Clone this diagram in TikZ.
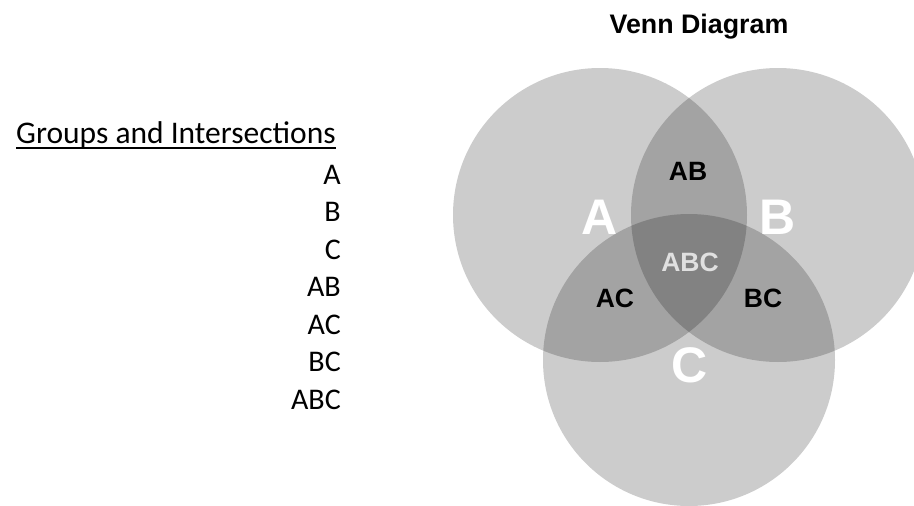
\documentclass[tikz,border=0pt]{standalone}
\usepackage{fontspec}
\setmainfont{Liberation Sans}
\newfontfamily\listfont{Carlito}
\begin{document}
\begin{tikzpicture}[x=1pt,y=-1pt,
  setcircle/.style={fill=black,fill opacity=0.2},
  bigletter/.style={inner sep=0pt,text=white,font=\fontsize{50}{52}\selectfont\bfseries},
  zonelabel/.style={inner sep=0pt,text=black,font=\fontsize{26.5}{28}\selectfont\bfseries},
  listitem/.style={inner sep=0pt,anchor=base east,font=\listfont\fontsize{30}{34}\selectfont}]
\useasboundingbox (0,0) rectangle (914,506);

% heading
\node[inner sep=0pt,anchor=base,font=\fontsize{26.8}{28}\selectfont\bfseries] (title) at (699,33) {Venn Diagram};

% the three sets
\coordinate (cA) at (600,215);
\coordinate (cB) at (778,215);
\coordinate (cC) at (689,360);
\fill[setcircle] (cA) circle[radius=147];
\fill[setcircle] (cB) circle[radius=147];
\fill[setcircle] (cC) circle[radius=146];

% set names
\node[bigletter] (lA) at (600,217) {A};
\node[bigletter] (lB) at (778,217) {B};
\node[bigletter] (lC) at (690,365) {C};

% intersection names
\node[zonelabel] (lAB) at (688,171) {AB};
\node[zonelabel] (lAC) at (615,298) {AC};
\node[zonelabel] (lBC) at (763,298) {BC};
\node[zonelabel,text=black!12] (lABC) at (690,262) {ABC};

% list of groups
\node[inner sep=0pt,anchor=base west,font=\listfont\fontsize{31.5}{34}\selectfont] (head) at (16,143) {Groups and Intersections};
\coordinate (ulL) at (16,148);
\coordinate (ulR) at (head.base east |- ulL);
\draw[line width=1.6pt] (ulL) -- (ulR);

\node[listitem] (iA) at (341,184) {A};
\node[listitem] (iB) at (341,221.5) {B};
\node[listitem] (iC) at (341,259) {C};
\node[listitem] (iAB) at (341,296.5) {AB};
\node[listitem] (iAC) at (341,334) {AC};
\node[listitem] (iBC) at (341,371.5) {BC};
\node[listitem] (iABC) at (341,409) {ABC};
\end{tikzpicture}
\end{document}
